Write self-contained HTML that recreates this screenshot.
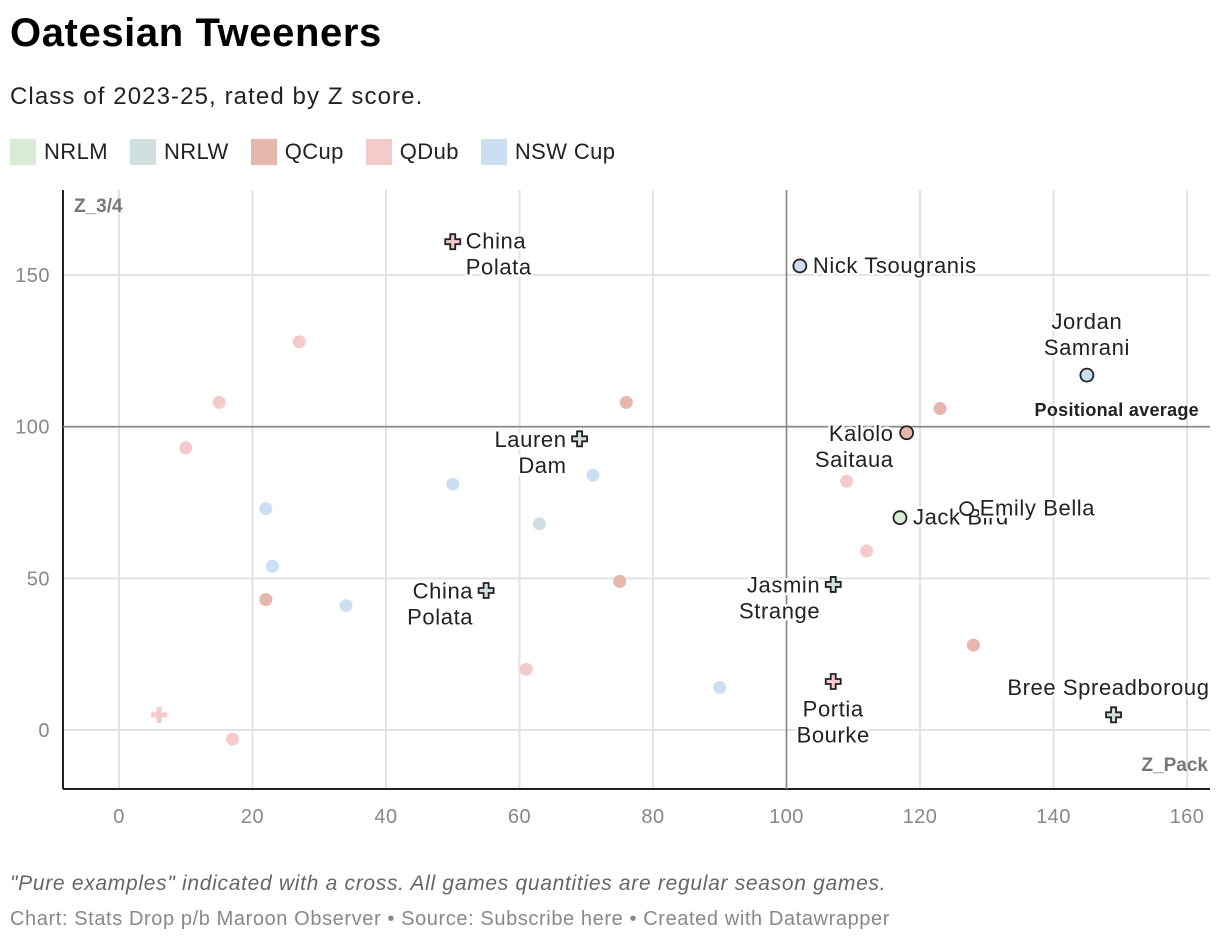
<!DOCTYPE html>
<html><head><meta charset="utf-8"><style>
body{margin:0;background:#fff;font-family:"Liberation Sans",sans-serif;width:1220px;height:944px;overflow:hidden;position:relative}
.t{position:absolute;left:10px;white-space:nowrap}
</style></head><body>
<div class="t" style="top:11px;font-size:40px;font-weight:bold;color:#000;letter-spacing:0.6px">Oatesian Tweeners</div>
<div class="t" style="top:83px;font-size:24px;color:#222;letter-spacing:1.1px">Class of 2023-25, rated by Z score.</div>
<div class="t" style="top:139px;font-size:22px;color:#222;display:flex;letter-spacing:0.4px">
<span style="display:flex;align-items:center;margin-right:22px"><i style="width:26px;height:26px;background:#d8ebd4;margin-right:8px"></i>NRLM</span>
<span style="display:flex;align-items:center;margin-right:22px"><i style="width:26px;height:26px;background:#d0dfe0;margin-right:8px"></i>NRLW</span>
<span style="display:flex;align-items:center;margin-right:22px"><i style="width:26px;height:26px;background:#e6b7ac;margin-right:8px"></i>QCup</span>
<span style="display:flex;align-items:center;margin-right:22px"><i style="width:26px;height:26px;background:#f4caca;margin-right:8px"></i>QDub</span>
<span style="display:flex;align-items:center"><i style="width:26px;height:26px;background:#cbdff3;margin-right:8px"></i>NSW Cup</span>
</div>
<svg id="chart" width="1220" height="944" style="position:absolute;left:0;top:0"></svg>
<div class="t" style="top:872px;font-size:21px;font-style:italic;color:#666;letter-spacing:0.7px">"Pure examples" indicated with a cross. All games quantities are regular season games.</div>
<div class="t" style="top:908px;font-size:20px;color:#888;letter-spacing:0.6px">Chart: Stats Drop p/b Maroon Observer • Source: Subscribe here • Created with Datawrapper</div>
<script>
const xTicks=[0,20,40,60,80,100,120,140,160];
const yTicks=[0,50,100,150];
const cats=["NRLM","NRLW","QCup","QDub","NSW"];
const colors={NRLM:"#d8ebd4",NRLW:"#d0dfe0",QCup:"#e6b7ac",QDub:"#f4caca",NSW:"#cbdff3",W:"#ffffff"};
const bgX=[27,15,10,109,112,61,17,76,123,75,22,128,22,23,34,50,71,90,63];
const bgY=[128,108,93,82,59,20,-3,108,106,49,43,28,73,54,41,81,84,14,68];
const bgCat=["QDub","QDub","QDub","QDub","QDub","QDub","QDub","QCup","QCup","QCup","QCup","QCup","NSW","NSW","NSW","NSW","NSW","NSW","NRLW"];
const hlNames=["China\nPolata","Nick Tsougranis","Jordan\nSamrani","Kalolo\nSaitaua","Lauren\nDam","Jack Bird","Emily Bella","China\nPolata","Jasmin\nStrange","Portia\nBourke","Bree Spreadboroug"];
const hlX=[50,102,145,118,69,117,127,55,107,107,149];
const hlY=[161,153,117,98,96,70,73,46,48,16,5];
const hlCat=["QDub","NSW","NSW","QCup","NRLW","NRLM","W","NRLW","NRLW","QDub","NRLW"];
const hlCross=[1,0,0,0,1,0,0,1,1,1,1];
const hlPos=["r","r","t","l","l","r","r","l","l","b","t"];
const avgX=100, avgY=100;
const X=v=>119+v*6.675, Y=v=>730-v*3.033;
const svg=document.getElementById('chart');const NS="http://www.w3.org/2000/svg";
function el(t,a,p){const e=document.createElementNS(NS,t);for(const k in a)e.setAttribute(k,a[k]);(p||svg).appendChild(e);return e;}
const L=63,R=1210,T=190,B=789;
xTicks.forEach(v=>{const g=el('line',{x1:X(v),x2:X(v),y1:T,y2:B,stroke:'#e2e2e2','stroke-width':2});

const t=el('text',{x:X(v),y:823,'text-anchor':'middle','font-size':20,fill:'#888','letter-spacing':0.5});t.textContent=v;
});
yTicks.forEach(v=>{const g=el('line',{x1:L,x2:R,y1:Y(v),y2:Y(v),stroke:'#e2e2e2','stroke-width':2});

const t=el('text',{x:50,y:Y(v)+7,'text-anchor':'end','font-size':20,fill:'#888','letter-spacing':0.5});t.textContent=v;
});
let a=el('line',{x1:L,x2:L,y1:T,y2:B,stroke:'#222','stroke-width':2});
a=el('line',{x1:L,x2:R,y1:B,y2:B,stroke:'#222','stroke-width':2});
a=el('line',{x1:X(avgX),x2:X(avgX),y1:T,y2:B,stroke:'#888','stroke-width':1.6});
a=el('line',{x1:L,x2:R,y1:Y(avgY),y2:Y(avgY),stroke:'#888','stroke-width':1.6});
a=el('text',{x:1199,y:416,'text-anchor':'end','font-size':18,'font-weight':'bold',fill:'#222','letter-spacing':0.3});a.textContent='Positional average';

a=el('text',{x:74,y:212,'font-size':19,'font-weight':'bold',fill:'#777'});a.textContent='Z_3/4';

a=el('text',{x:1208,y:771,'text-anchor':'end','font-size':19,'font-weight':'bold',fill:'#777'});a.textContent='Z_Pack';

bgX.forEach((v,i)=>{const c=el('circle',{cx:X(v),cy:Y(bgY[i]),r:6.5,fill:colors[bgCat[i]]});
});
const pc=el('path',{d:`M${X(6)-2.5},${Y(5)-8}h5v5.5h5.5v5h-5.5v5.5h-5v-5.5h-5.5v-5h5.5z`,fill:colors.QDub});

hlX.forEach((v,i)=>{const cx=X(v),cy=Y(hlY[i]);let m;
if(hlCross[i]) m=el('path',{d:`M${cx-2.5},${cy-7.5}h5v5h5v5h-5v5h-5v-5h-5v-5h5z`,fill:colors[hlCat[i]],stroke:'#222','stroke-width':1.8});
else m=el('circle',{cx,cy,r:6.5,fill:colors[hlCat[i]],stroke:'#222','stroke-width':1.8});

const lines=hlNames[i].split('\n');const p=hlPos[i];let tx=cx,ty=cy,anchor='start';
if(p=='r'){tx=cx+13;ty=cy+7;}
if(p=='l'){tx=cx-13;anchor='end';ty=cy+(lines.length>1?8:7);}
if(p=='t'){anchor='middle';ty=cy-(lines.length*26)+6;if(lines.length==1){anchor='end';tx=cx+96;}}
if(p=='b'){anchor='middle';ty=cy+35;}
lines.forEach((ln,j)=>{const t=el('text',{x:tx,y:ty+j*26,'text-anchor':anchor,'font-size':22,'letter-spacing':0.6,fill:'#222',stroke:'#fff','stroke-width':5,'paint-order':'stroke','stroke-linejoin':'round'});
t.textContent=ln;});
});
</script>
</body></html>
